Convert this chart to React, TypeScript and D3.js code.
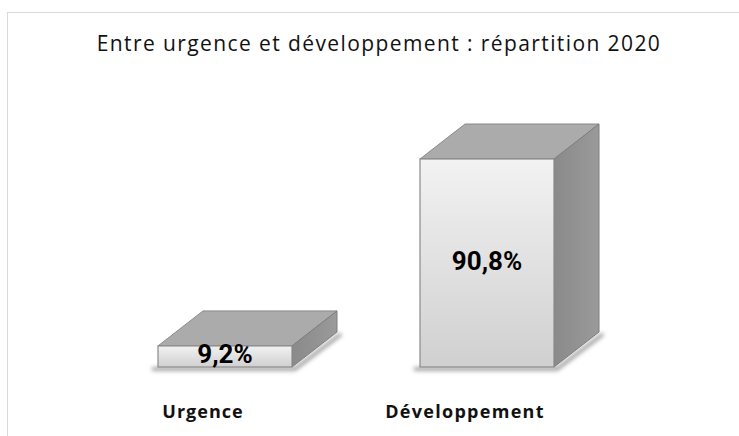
import React from "react";
import * as d3 from "d3";

const categories = ["Urgence", "Développement"];
const values = [9.2, 90.8];
const valueLabels = ["9,2%", "90,8%"];
const title = "Entre urgence et développement : répartition 2020";

export default function App() {
  const W = 739, H = 436;
  const x = d3.scaleBand<string>().domain(categories).range([27, 685]).paddingInner(128 / 262).paddingOuter(0.5);
  const y = d3.scaleLinear().domain([0, 90.8]).range([367, 159]);
  const dx = 45, dy = -35;
  return (
    <svg width={W} height={H} style={{ position: "absolute", left: 0, top: 0 }}>
      <defs>
        <linearGradient id="front" x1="0" y1="0" x2="0" y2="1">
          <stop offset="0" stopColor="#f2f2f2" />
          <stop offset="1" stopColor="#d0d0d0" />
        </linearGradient>
        <linearGradient id="side" x1="0" y1="0" x2="1" y2="0">
          <stop offset="0" stopColor="#8a8a8a" />
          <stop offset="1" stopColor="#9a9a9a" />
        </linearGradient>
        <filter id="blur" x="-20%" y="-50%" width="140%" height="200%">
          <feGaussianBlur stdDeviation="2.2" />
        </filter>
      </defs>
      <rect x={0} y={0} width={W} height={H} fill="#fff" />
      <rect x={7.5} y={12.5} width={W + 10} height={H + 10} fill="none" stroke="#d9d9d9" strokeWidth={1} />
      <text x={379} y={51} textAnchor="middle" fontFamily="Open Sans" fontSize={21} letterSpacing={1.4} fill="#111">{title}</text>
      {categories.map((c, i) => {
        const x0 = x(c)!;
        const bw = x.bandwidth();
        const x1 = x0 + bw;
        const yb = y(0);
        const yt = y(values[i]);
        const top = `M${x0},${yt} L${x0 + dx},${yt + dy} L${x1 + dx},${yt + dy} L${x1},${yt} Z`;
        const side = `M${x1},${yt} L${x1 + dx},${yt + dy} L${x1 + dx},${yb + dy} L${x1},${yb} Z`;
        return (
          <g key={c}>
            <path d={`M${x0 - 6},${yb + 2} L${x1 + 3},${yb + 2} L${x1 + dx + 4},${yb + dy + 2}`} fill="none" stroke="#888" strokeWidth={3} filter="url(#blur)" />
            <path d={top} fill="#ababab" stroke="#8a8a8a" strokeWidth={1} />
            <path d={side} fill="url(#side)" stroke="#7e7e7e" strokeWidth={1} />
            <rect x={x0} y={yt} width={bw} height={yb - yt} fill="url(#front)" stroke="#8a8a8a" strokeWidth={1.2} />
            <text x={x0 + bw / 2} y={(yt + yb) / 2 + 7} textAnchor="middle" fontFamily="Roboto" fontWeight={700} fontSize={26} fill="#000">{valueLabels[i]}</text>
            <text x={x0 + bw / 2 - 22} y={418} textAnchor="middle" fontFamily="Open Sans" fontWeight={700} fontSize={18} letterSpacing={i === 0 ? 1 : 1.3} fill="#111">{c}</text>
          </g>
        );
      })}
    </svg>
  );
}
